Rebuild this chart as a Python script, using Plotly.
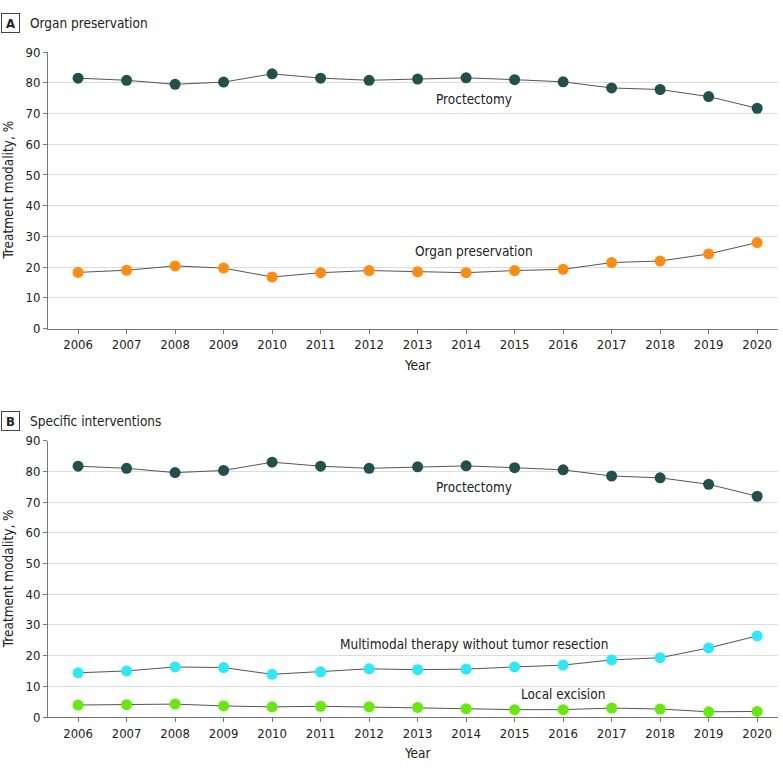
import plotly.graph_objects as go

years = list(range(2006, 2021))
year_labels = [str(y) for y in years]
y_ticks = [0, 10, 20, 30, 40, 50, 60, 70, 80, 90]

# Panel A
proctectomy_a = [81.5, 80.8, 79.5, 80.2, 82.9, 81.5, 80.8, 81.2, 81.6, 81.0, 80.3, 78.3, 77.8, 75.5, 71.7]
organ_preservation = [18.3, 19.0, 20.4, 19.7, 16.8, 18.2, 18.9, 18.5, 18.2, 18.9, 19.3, 21.5, 22.0, 24.3, 28.0]

# Panel B
proctectomy_b = [81.7, 81.0, 79.6, 80.3, 83.0, 81.7, 81.0, 81.5, 81.8, 81.2, 80.5, 78.5, 77.9, 75.8, 71.9]
multimodal = [14.4, 15.0, 16.3, 16.1, 13.9, 14.7, 15.7, 15.4, 15.6, 16.3, 16.9, 18.6, 19.3, 22.5, 26.4]
local_excision = [3.9, 4.0, 4.2, 3.6, 3.3, 3.5, 3.3, 3.1, 2.7, 2.4, 2.4, 2.9, 2.6, 1.7, 1.8]

FONT = "DejaVu Sans Condensed, DejaVu Sans, sans-serif"
C_PRO = "#23504c"
C_ORG = "#ff8c0f"
C_MUL = "#2de8f8"
C_LOC = "#66ea0c"
LINE = "#555555"
TXT = "#222222"

fig = go.Figure()

def add(y, color, xa, ya):
    fig.add_trace(go.Scatter(
        x=years, y=y, mode="lines+markers",
        line=dict(color=LINE, width=1),
        marker=dict(color=color, size=11, line=dict(width=0)),
        xaxis=xa, yaxis=ya, showlegend=False, hoverinfo="x+y"))

add(proctectomy_a, C_PRO, "x", "y")
add(organ_preservation, C_ORG, "x", "y")
add(proctectomy_b, C_PRO, "x2", "y2")
add(multimodal, C_MUL, "x2", "y2")
add(local_excision, C_LOC, "x2", "y2")

xcommon = dict(range=[2005.38, 2020.43], tickvals=years, ticktext=year_labels,
               showgrid=False, showline=True, linecolor="#777777", linewidth=1,
               ticks="outside", ticklen=4, tickcolor="#777777",
               tickfont=dict(family=FONT, size=13, color=TXT), zeroline=False)
ycommon = dict(range=[0, 90], tickvals=y_ticks, showgrid=True, gridcolor="#dcdcdc", gridwidth=1,
               showline=True, linecolor="#777777", linewidth=1,
               ticks="outside", ticklen=4, tickcolor="#777777",
               tickfont=dict(family=FONT, size=13, color=TXT), zeroline=False)

fig.update_layout(
    width=783, height=772,
    margin=dict(l=48, r=5, t=52, b=55),
    plot_bgcolor="white", paper_bgcolor="white",
    font=dict(family=FONT, size=13, color=TXT),
    xaxis=dict(domain=[0, 1], anchor="y", **xcommon),
    yaxis=dict(domain=[0.584, 1.0], anchor="x", **ycommon),
    xaxis2=dict(domain=[0, 1], anchor="y2", **xcommon),
    yaxis2=dict(domain=[0.0, 0.4155], anchor="x2", **ycommon),
)

ann = []
# panel headers
for letter, title, yc in [("A", "Organ preservation", 1.0436), ("B", "Specific interventions", 0.4451)]:
    ann.append(dict(xref="paper", yref="paper", x=-0.0514, y=yc, text="<b>" + letter + "</b>",
                    showarrow=False, font=dict(family=FONT, size=13, color=TXT),
                    bordercolor="#444444", borderwidth=1, borderpad=1, width=15, height=16,
                    xanchor="center", yanchor="middle"))
    ann.append(dict(xref="paper", yref="paper", x=-0.0278, y=yc, text=title,
                    showarrow=False, font=dict(family=FONT, size=13.5, color=TXT),
                    xanchor="left", yanchor="middle"))
# y-axis titles
for yc in [(1.0 + 0.584) / 2, 0.4155 / 2]:
    ann.append(dict(xref="paper", yref="paper", x=-0.0544, y=yc, text="Treatment modality, %",
                    textangle=-90, showarrow=False, font=dict(family=FONT, size=13.5, color=TXT),
                    xanchor="center", yanchor="middle"))
# x-axis titles
for yc in [0.529, -0.0546]:
    ann.append(dict(xref="paper", yref="paper", x=0.506, y=yc, text="Year",
                    showarrow=False, font=dict(family=FONT, size=13.5, color=TXT),
                    xanchor="center", yanchor="middle"))
# series labels
ann += [
    dict(xref="x", yref="y", x=2014.17, y=74.7, text="Proctectomy", showarrow=False,
         font=dict(family=FONT, size=13.5, color=TXT)),
    dict(xref="x", yref="y", x=2014.16, y=25.1, text="Organ preservation", showarrow=False,
         font=dict(family=FONT, size=13.5, color=TXT)),
    dict(xref="x2", yref="y2", x=2014.17, y=75.0, text="Proctectomy", showarrow=False,
         font=dict(family=FONT, size=13.5, color=TXT)),
    dict(xref="x2", yref="y2", x=2014.17, y=23.8, text="Multimodal therapy without tumor resection",
         showarrow=False, font=dict(family=FONT, size=13.5, color=TXT)),
    dict(xref="x2", yref="y2", x=2016.0, y=7.5, text="Local excision", showarrow=False,
         font=dict(family=FONT, size=13.5, color=TXT)),
]
fig.update_layout(annotations=ann)

# remove the default page margin so the figure sits at the window's top-left corner
fig.write_html("out.html", config={"displayModeBar": False},
               post_script="document.body.style.margin='0';")
